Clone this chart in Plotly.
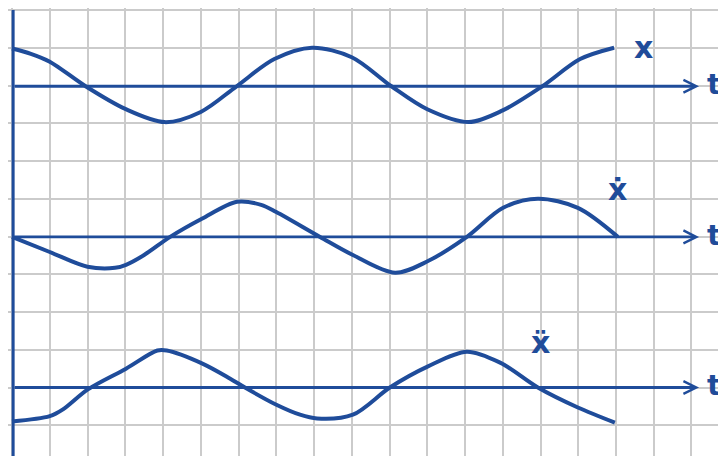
import plotly.graph_objects as go

# hand sketch on squared paper: x, x-dot and x-double-dot against t
# all values in grid squares (one square = one unit)
INK = "#1f4c9a"
GRID = "#cbcbcb"

# displacement x(t), measured from its own t-axis
t_x = [0.0, 0.5, 1.0, 1.95, 3.0, 4.05, 5.0, 5.95, 6.95, 7.95, 9.0, 10.05, 11.0, 12.1, 13.0, 14.05, 15.05, 15.95]
x_vals = [1.0, 0.86, 0.65, 0.0, -0.6, -0.95, -0.68, 0.0, 0.72, 1.02, 0.77, 0.0, -0.61, -0.95, -0.64, 0.0, 0.72, 1.02]

# velocity x-dot(t)
t_v = [0.0, 1.0, 2.0, 2.73, 3.02, 3.5, 4.19, 5.03, 5.96, 6.6, 7.0, 8.16, 9.03, 10.15, 11.02, 12.05, 13.01, 13.93, 14.99, 16.05]
v_vals = [0.0, -0.4, -0.79, -0.82, -0.74, -0.48, 0.0, 0.48, 0.93, 0.85, 0.66, 0.0, -0.48, -0.95, -0.64, 0.0, 0.77, 1.01, 0.77, 0.0]

# acceleration x-double-dot(t)
t_a = [0.0, 1.0, 1.35, 2.01, 3.02, 3.85, 4.1, 5.03, 5.77, 6.17, 6.99, 7.63, 8.08, 9.03, 10.01, 11.02, 12.05, 12.93, 13.93, 14.99, 15.97]
a_vals = [-0.9, -0.76, -0.58, -0.05, 0.5, 0.98, 0.98, 0.64, 0.24, 0.0, -0.45, -0.72, -0.82, -0.72, 0.0, 0.56, 0.95, 0.66, 0.0, -0.53, -0.93]

# where each t-axis sits (grid rows below the top line) and its label
baselines = [-2.02, -6.01, -10.0]
curve_labels = ["x", "ẋ", "ẍ"]
label_pos = [(16.72, -0.98), (16.03, -4.75), (13.99, -8.8)]

T_START, T_END = 0.03, 18.2
# page body has an 8px margin, so the ranges are shifted to land the grid where the sketch has it
X_RANGE = [-0.106, 19.126]
Y_RANGE = [-12.026, 0.053]

fig = go.Figure()

# vertical axis
fig.add_trace(go.Scatter(x=[T_START, T_START], y=[0.0, Y_RANGE[0]], mode="lines",
                         line=dict(color=INK, width=3), hoverinfo="skip"))

for (tt, vv), b in zip([(t_x, x_vals), (t_v, v_vals), (t_a, a_vals)], baselines):
    fig.add_trace(go.Scatter(x=tt, y=[b + v for v in vv], mode="lines",
                             line=dict(color=INK, width=4, shape="spline", smoothing=0.9),
                             hoverinfo="skip"))
    # t-axis with an open arrow head
    fig.add_annotation(x=T_END, y=b, ax=T_START, ay=b, xref="x", yref="y", axref="x", ayref="y",
                       text="", showarrow=True, arrowhead=5, arrowsize=0.9, arrowwidth=2.8,
                       arrowcolor=INK, standoff=0)
    fig.add_annotation(x=18.84, y=b + 0.06, text="t", showarrow=False, xanchor="right",
                       font=dict(family="DejaVu Sans", size=29, color=INK, weight="bold"))

for lab, (lx, ly) in zip(curve_labels, label_pos):
    fig.add_annotation(x=lx, y=ly, text=lab, showarrow=False,
                       font=dict(family="DejaVu Sans", size=30, color=INK, weight="bold"))

fig.update_layout(
    width=726, height=456, margin=dict(l=0, r=0, t=0, b=0),
    paper_bgcolor="white", plot_bgcolor="white", showlegend=False,
    xaxis=dict(range=X_RANGE, dtick=1, tick0=0, showgrid=True, gridcolor=GRID, gridwidth=2,
               zeroline=False, showticklabels=False, ticks="", showline=False, fixedrange=True),
    yaxis=dict(range=Y_RANGE, dtick=1, tick0=0, showgrid=True, gridcolor=GRID, gridwidth=2,
               zeroline=False, showticklabels=False, ticks="", showline=False, fixedrange=True),
)

fig.write_html("out.html")
